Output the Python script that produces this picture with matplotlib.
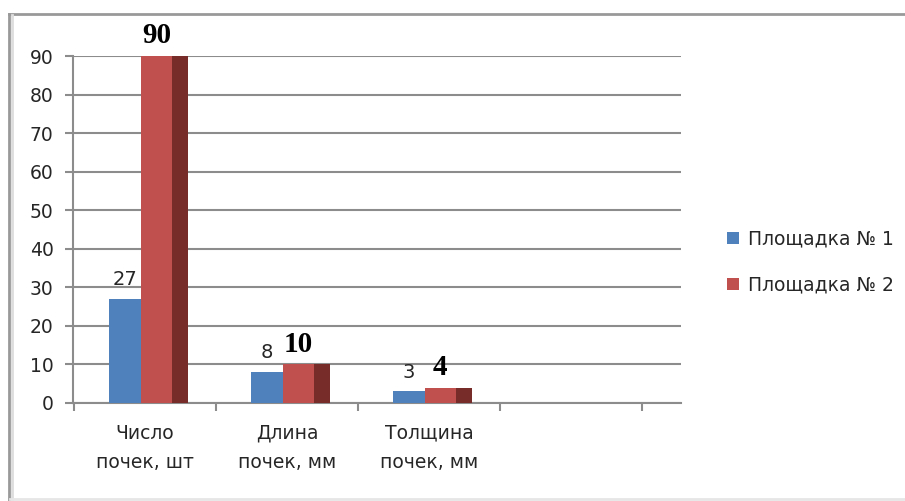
import matplotlib.pyplot as plt
from matplotlib.lines import Line2D
import numpy as np

categories = ['Число\nпочек, шт', 'Длина\nпочек, мм', 'Толщина\nпочек, мм']
site1 = [27, 8, 3]
site2 = [90, 10, 4]
series_names = ['Площадка № 1', 'Площадка № 2']
yticks = list(range(0, 100, 10))

blue = '#4F81BD'
red = '#C0504D'
dark_red = '#772C2A'
grid_col = '#8C8C8C'
txt_col = '#262626'
plt.rcParams['font.family'] = ['DejaVu Sans']

fig = plt.figure(figsize=(9.05, 5.01), dpi=100)
# outer chart frame (top and left edges, faint bottom)
W, H = 905, 501
fig.lines.append(Line2D([9 / W, 1], [1 - 14 / H] * 2, transform=fig.transFigure, color='#999999', lw=2))
fig.lines.append(Line2D([9 / W] * 2, [0, 1 - 14 / H], transform=fig.transFigure, color='#999999', lw=2))
fig.lines.append(Line2D([12 / W] * 2, [0, 1 - 15 / H], transform=fig.transFigure, color='#DDDDDD', lw=2))
fig.lines.append(Line2D([10 / W, 1], [2 / H] * 2, transform=fig.transFigure, color='#E6E6E6', lw=2))

ax = fig.add_axes([73 / W, 98 / H, 608 / W, 347 / H])
x = np.arange(len(categories))

ax.bar(x - 0.254, site1, width=0.226, align='edge', color=blue, label=series_names[0], zorder=3)
ax.bar(x - 0.028, site2, width=0.219, align='edge', color=red, label=series_names[1], zorder=3)
ax.bar(x + 0.191, site2, width=0.112, align='edge', color=dark_red, zorder=3)

# data labels
for xi, v in zip(x, site1):
    ax.annotate(str(v), (xi - 0.141, v), xytext=(0, 7), textcoords='offset points',
                ha='center', va='bottom', fontsize=14, color=txt_col)
for xi, v in zip(x, site2):
    ax.annotate(str(v), (xi + 0.08, v), xytext=(0, 5), textcoords='offset points',
                ha='center', va='bottom', fontsize=21, fontweight='bold',
                family='Liberation Serif', color='black')

ax.set_ylim(0, 90)
ax.set_xlim(-0.507, 3.775)
ax.set_yticks(yticks)
ax.set_yticklabels([str(t) for t in yticks], fontsize=13.5, color=txt_col)
ax.yaxis.grid(True, color=grid_col, linewidth=1.5, zorder=0)
ax.set_axisbelow(True)

ax.set_xticks(np.arange(-0.5, 4.0, 1.0))
ax.set_xticklabels([])
ax.set_xticks(x, minor=True)
ax.set_xticklabels(categories, minor=True, fontsize=13.5, color=txt_col, linespacing=1.7)
ax.tick_params(axis='x', which='major', length=6, width=1.5, color=grid_col)
ax.tick_params(axis='x', which='minor', length=0, pad=15)
ax.tick_params(axis='y', length=6, width=1.5, color=grid_col, pad=8)

for s in ['top', 'right']:
    ax.spines[s].set_visible(False)
for s in ['left', 'bottom']:
    ax.spines[s].set_color(grid_col)
    ax.spines[s].set_linewidth(1.5)

ax.legend(loc='center left', bbox_to_anchor=(710 / W, 239 / H), bbox_transform=fig.transFigure,
          frameon=False, fontsize=13.5, handlelength=0.65, handleheight=0.65, handletextpad=0.5,
          labelspacing=1.45, labelcolor=txt_col)

fig.savefig('out.png', dpi=100)
